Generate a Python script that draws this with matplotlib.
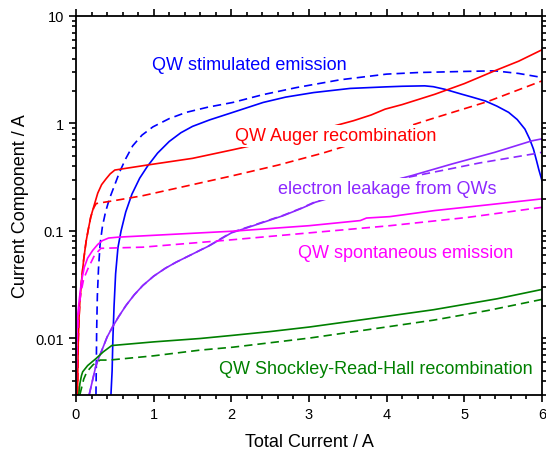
import matplotlib
matplotlib.use("Agg")
import matplotlib.pyplot as plt
from matplotlib.ticker import LogLocator, MultipleLocator, NullFormatter, FixedLocator

plt.rcParams['font.family'] = ['Liberation Sans', 'DejaVu Sans']

# ---- data ----
stim_x = [0.45, 0.465, 0.475, 0.49, 0.51, 0.54, 0.58, 0.64, 0.72, 0.82, 0.92, 1.05, 1.2, 1.35, 1.5, 1.72, 2.02,
          2.41, 2.7, 3.06, 3.53, 3.98, 4.2, 4.49, 4.6, 4.75, 4.97, 5.1, 5.27, 5.42, 5.57, 5.68, 5.78, 5.84, 5.89,
          5.93, 5.96, 6.0]
stim_y = [0.003, 0.005, 0.01, 0.02, 0.04, 0.07, 0.10, 0.15, 0.22, 0.31, 0.40, 0.53, 0.68, 0.82, 0.94, 1.08, 1.27,
          1.57, 1.76, 1.94, 2.12, 2.19, 2.22, 2.24, 2.2, 2.08, 1.87, 1.76, 1.62, 1.45, 1.27, 1.09, 0.887, 0.72, 0.578,
          0.45, 0.37, 0.294]
stim_d_x = [0.257, 0.262, 0.266, 0.275, 0.29, 0.31, 0.34, 0.38, 0.43, 0.5, 0.56, 0.64, 0.73, 0.85, 0.99, 1.2, 1.42,
            1.7, 2.02, 2.4, 2.84, 3.4, 4.0, 4.41, 5.0, 5.39, 5.7, 6.0]
stim_d_y = [0.003, 0.006, 0.012, 0.025, 0.045, 0.075, 0.11, 0.15, 0.199, 0.27, 0.352, 0.47, 0.62, 0.78, 0.93, 1.11,
            1.27, 1.42, 1.57, 1.85, 2.16, 2.55, 2.88, 2.98, 3.05, 3.09, 2.92, 2.68]

aug_x = [0.02, 0.025, 0.03, 0.04, 0.05, 0.065, 0.08, 0.10, 0.13, 0.16, 0.19, 0.23, 0.28, 0.33, 0.386, 0.44, 0.50,
         0.92, 1.50, 2.02, 2.5, 3.0, 3.57, 3.8, 3.98, 4.2, 4.62, 5.0, 5.39, 5.7, 6.0]
aug_y = [0.003, 0.006, 0.01, 0.016, 0.022, 0.03, 0.04, 0.055, 0.08, 0.105, 0.135, 0.17, 0.225, 0.27, 0.305, 0.34,
         0.369, 0.411, 0.474, 0.57, 0.68, 0.82, 1.06, 1.2, 1.36, 1.5, 1.87, 2.35, 3.09, 3.8, 4.85]
aug_d_x = [0.02, 0.025, 0.03, 0.04, 0.05, 0.065, 0.08, 0.10, 0.13, 0.16, 0.19, 0.23, 0.26, 0.5, 0.86, 1.4, 2.02,
           2.6, 3.18, 3.9, 4.57, 5.3, 6.0]
aug_d_y = [0.003, 0.006, 0.01, 0.016, 0.022, 0.03, 0.04, 0.055, 0.08, 0.105, 0.135, 0.165, 0.18, 0.192, 0.213,
           0.26, 0.327, 0.41, 0.531, 0.77, 1.1, 1.6, 2.49]

leak_x = [0.17, 0.21, 0.257, 0.3, 0.34, 0.4, 0.47, 0.55, 0.644, 0.75, 0.86, 1.0, 1.15, 1.29, 1.5, 1.72, 2.0, 2.2,
          2.45, 2.67, 2.9, 3.08, 3.7, 4.32, 4.84, 5.39, 5.87, 6.0]
leak_y = [0.003, 0.004, 0.0056, 0.0068, 0.008, 0.0103, 0.0128, 0.016, 0.0203, 0.0255, 0.0311, 0.038, 0.045, 0.0513,
          0.061, 0.0731, 0.096, 0.107, 0.123, 0.139, 0.162, 0.185, 0.25, 0.327, 0.42, 0.539, 0.69, 0.72]
leak_d_x = [0.17, 0.21, 0.257, 0.3, 0.34, 0.4, 0.47, 0.55, 0.644, 0.75, 0.86, 1.0, 1.15, 1.29, 1.5, 1.72, 2.0, 2.2,
            2.45, 2.67, 2.9, 3.08, 3.8, 4.54, 5.2, 5.95, 6.0]
leak_d_y = [0.003, 0.004, 0.0056, 0.0068, 0.008, 0.0103, 0.0128, 0.016, 0.0203, 0.0255, 0.0311, 0.038, 0.045,
            0.0513, 0.061, 0.0735, 0.097, 0.108, 0.124, 0.14, 0.163, 0.187, 0.27, 0.345, 0.43, 0.53, 0.54]

spon_x = [0.0, 0.005, 0.01, 0.02, 0.043, 0.07, 0.107, 0.15, 0.215, 0.28, 0.34, 0.42, 0.54, 2.02, 3.0, 3.66, 3.74,
          4.04, 4.62, 5.3, 6.0]
spon_y = [0.003, 0.006, 0.01, 0.016, 0.0234, 0.034, 0.046, 0.056, 0.066, 0.075, 0.0814, 0.086, 0.0876, 0.0996,
          0.112, 0.125, 0.132, 0.136, 0.155, 0.175, 0.199]
spon_d_x = [0.0, 0.01, 0.03, 0.06, 0.1, 0.15, 0.236, 0.32, 0.86, 2.02, 3.0, 4.04, 5.05, 6.0]
spon_d_y = [0.003, 0.008, 0.016, 0.026, 0.036, 0.044, 0.059, 0.069, 0.0707, 0.083, 0.096, 0.112, 0.134, 0.166]

srh_x = [0.035, 0.05, 0.07, 0.086, 0.15, 0.257, 0.35, 0.46, 1.0, 1.6, 2.02, 2.5, 3.01, 3.7, 4.6, 5.42, 6.0]
srh_y = [0.003, 0.0038, 0.0045, 0.0049, 0.0056, 0.0065, 0.0075, 0.0086, 0.0093, 0.0100, 0.0107, 0.0116, 0.0128,
         0.015, 0.0185, 0.0234, 0.0286]
srh_d_x = [0.05, 0.1, 0.14, 0.22, 0.31, 0.43, 1.0, 1.6, 2.02, 3.01, 3.8, 4.6, 5.3, 6.0]
srh_d_y = [0.003, 0.0042, 0.0049, 0.0057, 0.0063, 0.0063, 0.0069, 0.0078, 0.0083, 0.0101, 0.0122, 0.0148, 0.0182,
           0.0231]

x_ticks = [0, 1, 2, 3, 4, 5, 6]
y_ticks = [0.01, 0.1, 1, 10]
y_tick_labels = ['0.01', '0.1', '1', '10']

labels = ['QW stimulated emission', 'QW Auger recombination', 'electron leakage from QWs',
          'QW spontaneous emission', 'QW Shockley-Read-Hall recombination']

C_BLUE = '#0000ff'
C_RED = '#ff0000'
C_PURP = '#8c28ff'
C_MAG = '#ff00ff'
C_GRN = '#008000'

W, H = 546, 452
fig = plt.figure(figsize=(W / 100, H / 100), dpi=100)
L, R, T, B = 76, 542, 17, 395.7
ax = fig.add_axes([L / W, 1 - B / H, (R - L) / W, (B - T) / H])

lw = 1.2
dash = (0, (5, 3))
ax.plot(stim_x, stim_y, color=C_BLUE, lw=lw)
ax.plot(stim_d_x, stim_d_y, color=C_BLUE, lw=lw, ls=dash)
ax.plot(aug_x, aug_y, color=C_RED, lw=lw)
ax.plot(aug_d_x, aug_d_y, color=C_RED, lw=lw, ls=dash)
ax.plot(leak_x, leak_y, color=C_PURP, lw=lw)
ax.plot(leak_d_x, leak_d_y, color=C_PURP, lw=lw, ls=dash)
ax.plot(spon_x, spon_y, color=C_MAG, lw=lw)
ax.plot(spon_d_x, spon_d_y, color=C_MAG, lw=lw, ls=dash)
ax.plot(srh_x, srh_y, color=C_GRN, lw=lw)
ax.plot(srh_d_x, srh_d_y, color=C_GRN, lw=lw, ls=dash)

ax.set_yscale('log')
ax.set_xlim(0, 6)
ax.set_ylim(0.003, 10)

ax.xaxis.set_major_locator(FixedLocator(x_ticks))
ax.xaxis.set_minor_locator(MultipleLocator(0.2))
ax.set_xticklabels([str(v) for v in x_ticks])
ax.yaxis.set_major_locator(FixedLocator(y_ticks))
ax.set_yticklabels(y_tick_labels)
ax.yaxis.set_minor_locator(LogLocator(base=10, subs=range(2, 10)))
ax.yaxis.set_minor_formatter(NullFormatter())

ax.tick_params(which='both', direction='out', top=True, right=True, labelsize=10.5, width=1.2)
ax.tick_params(which='major', length=5)
ax.tick_params(which='minor', length=3)
for s in ax.spines.values():
    s.set_linewidth(1.3)

ax.set_xlabel('Total Current / A', fontsize=13, labelpad=9)
ax.set_ylabel('Current Component / A', fontsize=13, labelpad=5)

# label positions in pixel space of the reference -> axes fraction
label_px = [(249.5, 66), (336, 137), (387.5, 190), (405.5, 253), (375.8, 370)]
label_colors = [C_BLUE, C_RED, C_PURP, C_MAG, C_GRN]
bb = dict(facecolor='white', edgecolor='none', pad=1.5)
for txt, (px, py), c in zip(labels, label_px, label_colors):
    ax.text((px - L) / (R - L), (B - py) / (B - T), txt, transform=ax.transAxes, color=c, fontsize=13,
            ha='center', va='center', bbox=bb, zorder=5)

fig.savefig('out.png', dpi=100)
